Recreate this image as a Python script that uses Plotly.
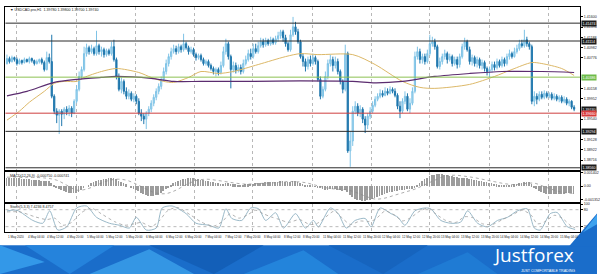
import plotly.graph_objects as go

W, H = 600, 274

# ---------------- data (prices in 1e-4 units, H1 bars) ----------------
bar_index = list(range(229))

opens_pips = [
    14066, 14076, 14070, 14078, 14074, 14066, 14072, 14068, 14074, 14070,
    14076, 14072, 14066, 14070, 14074, 14068, 14054, 14078, 14070, 14000,
    13970, 13962, 13970, 13964, 13974, 13968, 13976, 13966, 13990, 14014,
    14040, 14054, 14086, 14098, 14090, 14096, 14086, 14102, 14090, 14094,
    14084, 14092, 14086, 14100, 14074, 14040, 14014, 14030, 14010, 14000,
    14006, 13994, 14000, 13990, 13966, 13960, 13954, 13966, 13974, 13986,
    13998, 14010, 14020, 14034, 14050, 14066, 14080, 14090, 14096, 14090,
    14100, 14094, 14106, 14098, 14090, 14094, 14084, 14078, 14082, 14074,
    14066, 14070, 14062, 14056, 14050, 14054, 14048, 14062, 14090, 14106,
    14080, 14054, 14062, 14052, 14058, 14050, 14066, 14074, 14086, 14080,
    14096, 14090, 14102, 14110, 14104, 14112, 14106, 14114, 14108, 14116,
    14122, 14130, 14118, 14106, 14094, 14124, 14140, 14130, 14110, 14080,
    14070, 14060, 14074, 14066, 14078, 14070, 14034, 14000, 14014, 14040,
    14066, 14074, 14062, 14070, 14050, 14030, 14014, 14086, 13890, 13910,
    13970, 13980, 13966, 13974, 13954, 13942, 13960, 13970, 13982, 13994,
    14000, 14006, 14002, 14010, 14006, 14014, 14010, 14002, 13980, 13970,
    13990, 14000, 13974, 13986, 14010, 14080, 14090, 14074, 14080, 14070,
    14086, 14106, 14110, 14100, 14060, 14070, 14080, 14086, 14074, 14080,
    14066, 14074, 14064, 14080, 14100, 14110, 14094, 14070, 14078, 14066,
    14074, 14062, 14068, 14056, 14050, 14054, 14064, 14058, 14070, 14062,
    14074, 14066, 14080, 14086, 14080, 14090, 14096, 14106, 14102, 14114,
    14106, 14100, 13990, 14000, 13994, 14004, 13998, 14006, 14000, 14004,
    13996, 14000, 13994, 13998, 13990, 13994, 13986, 13990, 13978,
]
highs_pips = [
    14084, 14080, 14082, 14080, 14078, 14076, 14074, 14078, 14076, 14080,
    14078, 14074, 14074, 14076, 14078, 14072, 14090, 14086, 14124, 14004,
    13976, 13974, 13974, 13978, 13980, 13982, 13980, 13994, 14022, 14050,
    14060, 14100, 14106, 14102, 14104, 14100, 14132, 14106, 14100, 14098,
    14096, 14096, 14110, 14114, 14078, 14046, 14038, 14034, 14018, 14014,
    14010, 14006, 14004, 13996, 13974, 13966, 13970, 13980, 13992, 14004,
    14016, 14026, 14040, 14058, 14074, 14086, 14098, 14104, 14102, 14106,
    14104, 14126, 14110, 14102, 14100, 14098, 14088, 14086, 14086, 14078,
    14074, 14074, 14066, 14060, 14058, 14058, 14070, 14100, 14116, 14110,
    14084, 14070, 14068, 14064, 14064, 14074, 14082, 14094, 14096, 14106,
    14106, 14110, 14118, 14116, 14118, 14116, 14120, 14118, 14122, 14130,
    14134, 14134, 14124, 14110, 14134, 14160, 14150, 14136, 14114, 14086,
    14076, 14080, 14082, 14086, 14082, 14074, 14040, 14020, 14050, 14074,
    14084, 14080, 14080, 14076, 14054, 14034, 14104, 14090, 13930, 13980,
    13990, 13986, 13982, 13978, 13960, 13966, 13978, 13990, 14000, 14006,
    14014, 14012, 14018, 14016, 14020, 14018, 14016, 14006, 13990, 13996,
    14010, 14006, 13996, 14018, 14090, 14100, 14096, 14086, 14086, 14094,
    14124, 14120, 14116, 14104, 14078, 14086, 14094, 14090, 14086, 14084,
    14080, 14080, 14086, 14106, 14118, 14114, 14100, 14084, 14082, 14080,
    14078, 14074, 14072, 14060, 14060, 14070, 14070, 14076, 14074, 14080,
    14078, 14086, 14094, 14090, 14098, 14104, 14114, 14114, 14134, 14120,
    14110, 14104, 14010, 14006, 14010, 14010, 14012, 14010, 14008, 14008,
    14006, 14004, 14002, 14002, 14000, 13998, 13994, 13992, 13982,
]
lows_pips = [
    14064, 14066, 14068, 14070, 14062, 14064, 14064, 14066, 14068, 14066,
    14068, 14062, 14064, 14066, 14064, 14050, 14052, 14066, 13996, 13964,
    13946, 13924, 13940, 13954, 13962, 13960, 13958, 13964, 13986, 14010,
    14034, 14050, 14080, 14084, 14086, 14082, 14082, 14084, 14080, 14078,
    14080, 14082, 14082, 14070, 14034, 14010, 14006, 14004, 13994, 13994,
    13990, 13988, 13984, 13962, 13950, 13944, 13934, 13960, 13968, 13980,
    13992, 14004, 14014, 14030, 14044, 14060, 14074, 14086, 14084, 14086,
    14088, 14090, 14094, 14084, 14086, 14080, 14072, 14074, 14070, 14062,
    14062, 14058, 14052, 14044, 14040, 14042, 14044, 14058, 14084, 14074,
    14016, 14048, 14046, 14048, 14044, 14046, 14062, 14070, 14074, 14076,
    14086, 14086, 14098, 14098, 14100, 14102, 14102, 14104, 14104, 14110,
    14116, 14110, 14100, 14090, 14090, 14120, 14124, 14106, 14076, 14060,
    14050, 14054, 14060, 14062, 14064, 14030, 13994, 13996, 14010, 14034,
    14060, 14050, 14056, 14044, 14024, 14006, 14010, 13886, 13858, 13900,
    13964, 13960, 13958, 13946, 13926, 13934, 13954, 13966, 13978, 13990,
    13996, 13998, 14000, 14002, 14004, 14006, 13998, 13974, 13956, 13966,
    13984, 13970, 13966, 13982, 14006, 14074, 14066, 14066, 14064, 14066,
    14082, 14100, 14094, 14056, 14054, 14064, 14074, 14066, 14070, 14060,
    14062, 14056, 14058, 14076, 14094, 14090, 14064, 14062, 14060, 14058,
    14056, 14054, 14050, 14042, 14038, 14048, 14052, 14054, 14058, 14058,
    14060, 14062, 14074, 14076, 14078, 14086, 14092, 14098, 14098, 14100,
    14094, 13984, 13980, 13984, 13990, 13994, 13994, 13996, 13996, 13992,
    13992, 13990, 13988, 13986, 13986, 13982, 13980, 13974, 13970,
]
closes_pips = [
    14076, 14070, 14078, 14074, 14066, 14072, 14068, 14074, 14070, 14076,
    14072, 14066, 14070, 14074, 14068, 14054, 14078, 14070, 14000, 13970,
    13962, 13970, 13964, 13974, 13968, 13976, 13966, 13990, 14014, 14040,
    14054, 14086, 14098, 14090, 14096, 14086, 14102, 14090, 14094, 14084,
    14092, 14086, 14100, 14074, 14040, 14014, 14030, 14010, 14000, 14006,
    13994, 14000, 13990, 13966, 13960, 13954, 13966, 13974, 13986, 13998,
    14010, 14020, 14034, 14050, 14066, 14080, 14090, 14096, 14090, 14100,
    14094, 14106, 14098, 14090, 14094, 14084, 14078, 14082, 14074, 14066,
    14070, 14062, 14056, 14050, 14054, 14048, 14062, 14090, 14106, 14080,
    14054, 14062, 14052, 14058, 14050, 14066, 14074, 14086, 14080, 14096,
    14090, 14102, 14110, 14104, 14112, 14106, 14114, 14108, 14116, 14122,
    14130, 14118, 14106, 14094, 14124, 14140, 14130, 14110, 14080, 14070,
    14060, 14074, 14066, 14078, 14070, 14034, 14000, 14014, 14040, 14066,
    14074, 14062, 14070, 14050, 14030, 14014, 14086, 13890, 13910, 13970,
    13980, 13966, 13974, 13954, 13942, 13960, 13970, 13982, 13994, 14000,
    14006, 14002, 14010, 14006, 14014, 14010, 14002, 13980, 13970, 13990,
    14000, 13974, 13986, 14010, 14080, 14090, 14074, 14080, 14070, 14086,
    14106, 14110, 14100, 14060, 14070, 14080, 14086, 14074, 14080, 14066,
    14074, 14064, 14080, 14100, 14110, 14094, 14070, 14078, 14066, 14074,
    14062, 14068, 14056, 14050, 14054, 14064, 14058, 14070, 14062, 14074,
    14066, 14080, 14086, 14080, 14090, 14096, 14106, 14102, 14114, 14106,
    14100, 13990, 14000, 13994, 14004, 13998, 14006, 14000, 14004, 13996,
    14000, 13994, 13998, 13990, 13994, 13986, 13990, 13978, 13974,
]

# moving averages read at points along the lines (bar index, price)
ma_fast_idx = [0, 5, 9, 15, 19, 23, 28, 31, 38, 44, 53, 58, 63, 67, 73, 78, 85, 91,
               101, 112, 118, 125, 139, 148, 159, 166, 172, 186, 196, 203, 211, 215, 223, 228]
ma_fast_val = [1.3952, 1.3970, 1.3988, 1.4010, 1.4026, 1.4030, 1.4030, 1.4038, 1.4050,
               1.4056, 1.4048, 1.4038, 1.4030, 1.4028, 1.4038, 1.4050, 1.4046, 1.4050,
               1.4064, 1.4080, 1.4086, 1.4084, 1.4084, 1.4064, 1.4030, 1.4018, 1.4016,
               1.4024, 1.4040, 1.4054, 1.4068, 1.4066, 1.4056, 1.4042]
ma_slow_idx = [0, 8, 19, 28, 38, 44, 58, 67, 78, 98, 118, 139, 148, 159, 172, 186, 199, 215, 228]
ma_slow_val = [1.4001, 1.4010, 1.4028, 1.4034, 1.4038, 1.4040, 1.4036, 1.4030, 1.4030,
               1.4030, 1.4031, 1.4030, 1.4027, 1.4030, 1.4040, 1.4046, 1.4050, 1.4050, 1.4048]

# horizontal levels
black_levels = [1.41474, 1.41114, 1.39294, 1.38560]
green_level = 1.40386
red_level = 1.39660
last_price = 1.39740

# MACD(12,26,9) histogram per bar
macd_hist = [
    0.00080, 0.00080, 0.00085, 0.00085, 0.00080, 0.00080, 0.00075, 0.00075, 0.00070, 0.00070,
    0.00065, 0.00065, 0.00060, 0.00060, 0.00055, 0.00050, 0.00050, 0.00050,
    0.00030, 0.00010, -0.00010, -0.00030,
    -0.00040, -0.00050, -0.00060, -0.00065, -0.00070, -0.00070, -0.00065, -0.00055,
    -0.00040, -0.00020, 0.00000, 0.00015, 0.00030, 0.00040, 0.00050, 0.00060,
    0.00065, 0.00070, 0.00075, 0.00080, 0.00080, 0.00080, 0.00070, 0.00055, 0.00040, 0.00030,
    0.00020, 0.00000, -0.00020, -0.00030, -0.00040, -0.00050, -0.00070, -0.00080, -0.00090,
    -0.00095, -0.00100, -0.00095, -0.00090, -0.00085,
    -0.00070, -0.00050, -0.00030, -0.00010, 0.00010, 0.00030, 0.00045, 0.00055, 0.00065,
    0.00070, 0.00075, 0.00080, 0.00080, 0.00080, 0.00075, 0.00070,
    0.00065, 0.00060, 0.00055, 0.00050, 0.00045, 0.00040, 0.00035, 0.00030, 0.00025,
    0.00025, 0.00030, 0.00030, 0.00025,
    0.00020, 0.00020, 0.00015, 0.00015, 0.00015, 0.00020, 0.00020, 0.00025, 0.00025, 0.00030,
    0.00030, 0.00035, 0.00035, 0.00040, 0.00040, 0.00040, 0.00040, 0.00045, 0.00045, 0.00050,
    0.00050, 0.00045, 0.00045, 0.00045, 0.00050,
    0.00050, 0.00045, 0.00035, 0.00025, 0.00015, 0.00010, 0.00005, 0.00000, -0.00005, -0.00010,
    -0.00020, -0.00030, -0.00035, -0.00035, -0.00030, -0.00030, -0.00030, -0.00035, -0.00040,
    -0.00045, -0.00040,
    -0.00060, -0.00090, -0.00110, -0.00125, -0.00135, -0.00140, -0.00145, -0.00145, -0.00140, -0.00135,
    -0.00125, -0.00115, -0.00105, -0.00095, -0.00085, -0.00075, -0.00065, -0.00060, -0.00055,
    -0.00050, -0.00050,
    -0.00040, -0.00040, -0.00035, -0.00030, -0.00030, -0.00025, -0.00010,
    0.00010, 0.00030, 0.00050, 0.00070, 0.00085, 0.00100, 0.00110, 0.00115, 0.00120, 0.00120,
    0.00120, 0.00115,
    0.00110, 0.00105, 0.00100, 0.00095, 0.00090, 0.00085, 0.00085, 0.00085, 0.00080, 0.00075,
    0.00070, 0.00065, 0.00060, 0.00055, 0.00050, 0.00045, 0.00040, 0.00035, 0.00030, 0.00025,
    0.00020, 0.00015, 0.00010, 0.00010, 0.00010, 0.00010, 0.00015, 0.00020, 0.00025, 0.00030,
    0.00035, 0.00040, 0.00040, 0.00040,
    0.00020, -0.00010, -0.00030, -0.00050, -0.00060, -0.00070, -0.00075, -0.00080, -0.00080,
    -0.00080, -0.00080, -0.00075, -0.00075, -0.00075, -0.00070, -0.00070, -0.00070, -0.00075,
]
macd_sig_idx = [0, 8, 16, 20, 24, 28, 32, 36, 40, 44, 48, 52, 56, 60, 64, 68, 72, 76, 80, 84,
                88, 92, 96, 100, 104, 108, 112, 116, 120, 124, 128, 132, 136, 140, 144, 148,
                152, 156, 160, 164, 168, 172, 176, 180, 184, 188, 192, 196, 200, 204, 208,
                212, 216, 220, 224, 228]
macd_sig_val = [0.00090, 0.00090, 0.00080, 0.00060, 0.00010, -0.00040, -0.00030, 0.00010,
                0.00050, 0.00070, 0.00060, 0.00020, -0.00030, -0.00070, -0.00075, -0.00040,
                0.00015, 0.00055, 0.00070, 0.00060, 0.00045, 0.00030, 0.00020, 0.00025,
                0.00030, 0.00035, 0.00045, 0.00045, 0.00035, 0.00010, -0.00015, -0.00030,
                -0.00035, -0.00060, -0.00100, -0.00130, -0.00120, -0.00090, -0.00060, -0.00030,
                0.00015, 0.00060, 0.00100, 0.00110, 0.00100, 0.00085, 0.00065, 0.00045,
                0.00025, 0.00015, 0.00025, 0.00030, -0.00005, -0.00040, -0.00065, -0.00075]

# Stochastic(5,3,3)
stoch_k_idx = [0, 4, 10.4, 14.4, 17.2, 20.4, 24, 28, 32, 36, 41.2, 45.2, 49.2, 52, 56, 60, 62.4,
               66.4, 72, 76, 81.2, 85.2, 88, 90.4, 94.4, 98, 101.2, 104, 108, 111.2, 116, 120,
               123.2, 125.2, 130, 133.2, 136.4, 140, 144, 146.4, 150, 154.4, 157.2, 160, 164,
               168, 170.4, 174.4, 178.4, 182.4, 185.2, 189.2, 193.2, 197.2, 201.2, 205.2,
               209.2, 212, 214.4, 218.4, 221.2, 225.2, 228.4]
stoch_k_val = [76, 78, 42, 32, 76, 8, 19, 86, 93, 53, 32, 25, 15, 53, 8, 15, 86, 93, 66, 32,
               25, 15, 83, 49, 42, 86, 83, 42, 69, 15, 66, 15, 42, 19, 86, 66, 15, 42, 49, 19,
               86, 66, 53, 25, 76, 86, 83, 42, 32, 36, 76, 32, 19, 42, 53, 76, 83, 15, 8, 66,
               70, 20, 10]
stoch_d_idx = [0, 5.2, 11.2, 16, 19.2, 22.4, 26, 30, 34, 38, 43.2, 47.2, 51.2, 54, 58, 61.2,
               64.4, 68.4, 74, 78.4, 83.2, 86.8, 89.6, 93.2, 96.4, 100, 103.2, 106, 109.6,
               113.2, 117.6, 121.6, 124.4, 127.6, 131.6, 134.8, 138, 142, 145.2, 148, 152, 156,
               158.8, 162, 166, 169.2, 172.4, 176.4, 180.4, 184, 187.2, 191.2, 195.2, 199.2,
               203.2, 207.2, 210.8, 213.2, 216.4, 220, 223.2, 226.8, 228.4]
stoch_d_val = [72, 72, 55, 45, 50, 25, 35, 70, 85, 65, 38, 25, 30, 35, 20, 40, 75, 88, 60, 35,
               22, 40, 65, 50, 60, 78, 65, 55, 45, 35, 45, 28, 30, 50, 75, 50, 28, 40, 38, 45,
               75, 60, 40, 50, 75, 85, 65, 42, 35, 55, 52, 30, 28, 45, 62, 78, 60, 30, 38, 60,
               50, 22, 16]

# axis labels
price_tick_vals = [1.41600, 1.41394, 1.41188, 1.40982, 1.40776, 1.40158, 1.39952,
                   1.39540, 1.39128, 1.38922, 1.38716]
price_tick_text = ["1.41600", "1.41394", "1.41188", "1.40982", "1.40776", "1.40158", "1.39952",
                   "1.39540", "1.39128", "1.38922", "1.38716"]
macd_tick_vals = [0.00140, 0.0, -0.00135]
macd_tick_text = ["0.001402", "0.00", "-0.001352"]
stoch_tick_vals = [100, 80, 20]
stoch_tick_text = ["100", "80", "20"]
date_labels = ["1 May 2020", "4 May 04:00", "4 May 12:00", "4 May 20:00", "5 May 04:00",
               "5 May 12:00", "5 May 20:00", "6 May 04:00", "6 May 12:00", "6 May 20:00",
               "7 May 04:00", "7 May 12:00", "7 May 20:00", "8 May 04:00", "8 May 12:00",
               "8 May 20:00", "11 May 04:00", "11 May 12:00", "11 May 20:00", "12 May 04:00",
               "12 May 12:00", "12 May 20:00", "13 May 04:00", "13 May 12:00", "13 May 20:00",
               "14 May 04:00", "14 May 12:00", "14 May 20:00", "15 May 04:00"]

# ---------------- layout helpers ----------------
opens = [v / 10000 for v in opens_pips]
highs = [v / 10000 for v in highs_pips]
lows = [v / 10000 for v in lows_pips]
closes = [v / 10000 for v in closes_pips]

def pxx(p):
    return p / W

def pyy(p):
    return 1 - p / H

grid_idx = [4, 28, 51.6, 75.2, 98.8, 122.8, 146.4, 170, 194, 217.6]
label_idx = [k * 7.92 for k in range(len(date_labels))]
X_RANGE = [-0.6, 230.4]
X_DOM = [pxx(5.5), pxx(583)]
FONT = "Liberation Sans"
TS = 3.6
DS = 3.0

fig = go.Figure()

fig.add_trace(go.Candlestick(
    x=bar_index, open=opens, high=highs, low=lows, close=closes,
    increasing=dict(line=dict(color="#7fc3e6", width=1), fillcolor="#a6d8f0"),
    decreasing=dict(line=dict(color="#1f77ad", width=1), fillcolor="#1f77ad"),
    whiskerwidth=0, xaxis="x", yaxis="y", hoverinfo="skip", showlegend=False))

fig.add_trace(go.Scatter(x=ma_fast_idx, y=ma_fast_val, mode="lines",
                         line=dict(color="#dcb868", width=1, shape="spline", smoothing=0.8),
                         xaxis="x", yaxis="y", hoverinfo="skip", showlegend=False))
fig.add_trace(go.Scatter(x=ma_slow_idx, y=ma_slow_val, mode="lines",
                         line=dict(color="#5b2c6f", width=1.2, shape="spline", smoothing=0.8),
                         xaxis="x", yaxis="y", hoverinfo="skip", showlegend=False))

fig.add_trace(go.Bar(x=bar_index, y=macd_hist, width=0.28,
                     marker=dict(color="#9c9c9c", line=dict(width=0)),
                     xaxis="x2", yaxis="y2", hoverinfo="skip", showlegend=False))
fig.add_trace(go.Scatter(x=macd_sig_idx, y=macd_sig_val, mode="lines",
                         line=dict(color="#8a8a8a", width=0.7, dash="dot", shape="spline"),
                         xaxis="x2", yaxis="y2", hoverinfo="skip", showlegend=False))

fig.add_trace(go.Scatter(x=stoch_k_idx, y=stoch_k_val, mode="lines",
                         line=dict(color="#8fb1c2", width=0.9, shape="spline", smoothing=0.7),
                         xaxis="x3", yaxis="y3", hoverinfo="skip", showlegend=False))
fig.add_trace(go.Scatter(x=stoch_d_idx, y=stoch_d_val, mode="lines",
                         line=dict(color="#a0a0a0", width=0.8, dash="dot", shape="spline", smoothing=0.7),
                         xaxis="x3", yaxis="y3", hoverinfo="skip", showlegend=False))

def xaxis_common(anchor):
    return dict(domain=X_DOM, range=X_RANGE, anchor=anchor, showgrid=True, gridcolor="#b8b8b8",
                griddash="dot", gridwidth=1, tickmode="array", tickvals=grid_idx,
                showticklabels=False, ticks="", showline=True, linecolor="#000", linewidth=1,
                mirror=True, zeroline=False, fixedrange=True, rangeslider=dict(visible=False))

def yaxis_common(dom, rng, vals, txt):
    return dict(domain=dom, range=rng, side="right", tickmode="array", tickvals=vals,
                ticktext=txt, tickfont=dict(size=TS, color="#222", family=FONT), ticks="outside",
                ticklen=2, tickcolor="#000", showgrid=False, showline=True, linecolor="#000",
                linewidth=1, mirror=True, zeroline=False, fixedrange=True)

shapes = []
for lv in black_levels:
    shapes.append(dict(type="line", xref="x domain", x0=0, x1=1, yref="y", y0=lv, y1=lv,
                       line=dict(color="#2b2b2b", width=1)))
shapes.append(dict(type="line", xref="x domain", x0=0, x1=1, yref="y", y0=green_level, y1=green_level,
                   line=dict(color="#8cc152", width=1)))
shapes.append(dict(type="line", xref="x domain", x0=0, x1=1, yref="y", y0=red_level, y1=red_level,
                   line=dict(color="#cf3f3f", width=1)))
for lv in [80, 20]:
    shapes.append(dict(type="line", xref="x3 domain", x0=0, x1=1, yref="y3", y0=lv, y1=lv,
                       line=dict(color="#a8a8a8", width=0.8, dash="dot")))

# banner (decorative)
def poly(points, color, opacity=1.0):
    d = "M " + " L ".join(f"{pxx(a):.4f},{pyy(b):.4f}" for a, b in points) + " Z"
    return dict(type="path", xref="paper", yref="paper", path=d, fillcolor=color,
                line=dict(width=0), opacity=opacity, layer="above")

shapes.append(dict(type="rect", xref="paper", yref="paper", x0=0, x1=1, y0=0, y1=pyy(245),
                   fillcolor="#1a6dca", line=dict(width=0)))
shapes += [
    poly([(0, 245), (45, 262), (0, 274)], "#3398e8"),
    poly([(25, 245), (115, 245), (70, 274)], "#2583dc"),
    poly([(90, 274), (150, 249), (195, 274)], "#3a9de9", 0.85),
    poly([(150, 245), (265, 245), (215, 274)], "#135fb8"),
    poly([(245, 274), (305, 250), (340, 274)], "#2586dd", 0.9),
    poly([(330, 245), (430, 245), (385, 274)], "#1664be"),
    poly([(420, 274), (470, 252), (500, 274)], "#1f7bd4"),
    poly([(572, 246), (600, 213), (600, 246)], "#1a6dca"),
    poly([(586, 232), (600, 214), (600, 224)], "#3ea2ee"),
]

annotations = []
# date labels
for xi, txt in zip(label_idx, date_labels):
    annotations.append(dict(x=xi, xref="x", y=pyy(236.5), yref="paper", text=txt, showarrow=False,
                            xanchor="left", yanchor="middle", borderpad=0,
                            font=dict(size=DS, color="#222", family=FONT)))
# right-hand value boxes
box_vals = black_levels + [green_level, last_price, red_level]
box_text = ["1.41474", "1.41114", "1.39294", "1.38560", "1.40386", "1.39740", "1.39660"]
box_bg = ["#1c1c1c", "#1c1c1c", "#1c1c1c", "#1c1c1c", "#6dbb4a", "#1c1c1c", "#d83b3b"]
box_ydelta = [0, 0, 0, 0, 0, 0.00002, -0.0001]
for v, t, bg, dv in zip(box_vals, box_text, box_bg, box_ydelta):
    annotations.append(dict(x=pxx(583.5), xref="paper", y=v + dv, yref="y", text=t, showarrow=False,
                            xanchor="left", yanchor="middle", bgcolor=bg, borderpad=0.6,
                            font=dict(size=TS, color="#ffffff", family=FONT)))
# panel titles
annotations.append(dict(x=pxx(8), xref="paper", y=pyy(8.5), yref="paper",
                        text="▼ USDCAD.pro,H1  1.39780 1.39800 1.39700 1.39740", showarrow=False,
                        xanchor="left", yanchor="middle", font=dict(size=TS, color="#222", family=FONT)))
annotations.append(dict(x=pxx(8), xref="paper", y=pyy(175.5), yref="paper",
                        text="MACD(12,26,9) -0.000750 -0.000741", showarrow=False,
                        xanchor="left", yanchor="middle", font=dict(size=TS, color="#222", family=FONT)))
annotations.append(dict(x=pxx(8), xref="paper", y=pyy(207), yref="paper",
                        text="Stoch(5,3,3) 7.4236 8.4757", showarrow=False,
                        xanchor="left", yanchor="middle", font=dict(size=TS, color="#222", family=FONT)))
# brand text
annotations.append(dict(x=pxx(536), xref="paper", y=pyy(254.5), yref="paper", text="Justforex",
                        showarrow=False, xanchor="center", yanchor="middle", borderpad=0,
                        font=dict(size=19, color="#ffffff", family="Open Sans")))
annotations.append(dict(x=pxx(551), xref="paper", y=pyy(270.5), yref="paper",
                        text="JUST COMFORTABLE TRADING", showarrow=False, xanchor="center",
                        yanchor="middle", borderpad=0,
                        font=dict(size=3.6, color="#ffffff", family=FONT)))

fig.update_layout(
    width=W, height=H, margin=dict(l=0, r=0, t=0, b=0),
    paper_bgcolor="#ffffff", plot_bgcolor="#ffffff", showlegend=False,
    font=dict(family=FONT, size=TS, color="#222"),
    boxgap=0.3, bargap=0,
    xaxis=xaxis_common("y"),
    xaxis2=dict(xaxis_common("y2"), matches="x"),
    xaxis3=dict(xaxis_common("y3"), matches="x"),
    yaxis=yaxis_common([pyy(169.5), pyy(5)], [1.3851, 1.4180], price_tick_vals, price_tick_text),
    yaxis2=yaxis_common([pyy(201.5), pyy(171)], [-0.0016, 0.00145], macd_tick_vals, macd_tick_text),
    yaxis3=yaxis_common([pyy(232), pyy(203.5)], [0, 100], stoch_tick_vals, stoch_tick_text),
    shapes=shapes, annotations=annotations,
)

fig.write_html("out.html")
